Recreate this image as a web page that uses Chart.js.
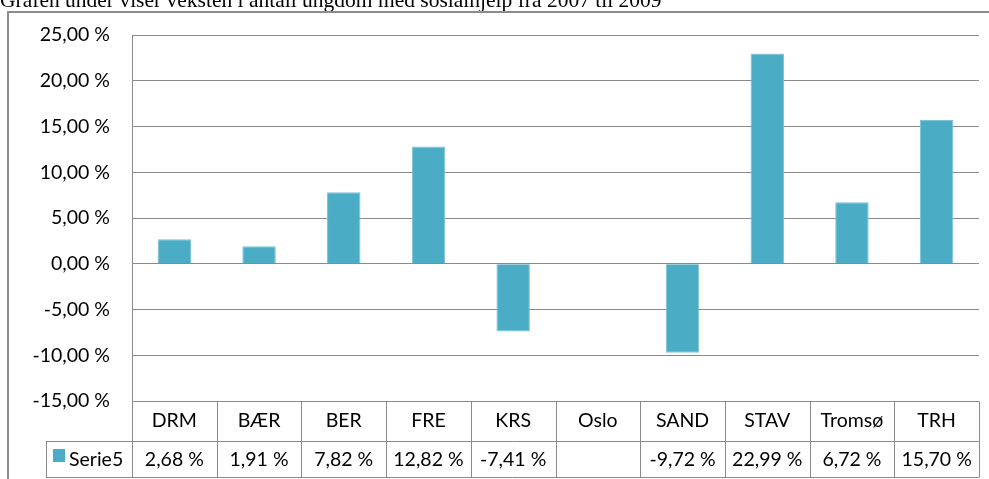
<!DOCTYPE html>
<html>
<head>
<meta charset="utf-8">
<script src="https://cdn.jsdelivr.net/npm/chart.js@4"></script>
<style>
  html, body { margin: 0; padding: 0; background: #fff; }
  #wrap { position: relative; width: 989px; height: 479px; }
</style>
</head>
<body>
<div id="wrap"><canvas id="vekstChart" width="989" height="479"></canvas></div>
<script>
// Data lest av grafen
const titleText = 'Grafen under viser veksten i antall ungdom med sosialhjelp fra 2007 til 2009';
const categories = ['DRM', 'BÆR', 'BER', 'FRE', 'KRS', 'Oslo', 'SAND', 'STAV', 'Tromsø', 'TRH'];
const serieName = 'Serie5';
const serieValues = [2.68, 1.91, 7.82, 12.82, -7.41, null, -9.72, 22.99, 6.72, 15.70];
const yMin = -15;
const yMax = 25;
const yStep = 5;

const FONT = 'Lato, "Open Sans", sans-serif';
const FONT_SIZE = 19.5;
const BAR_COLOR = '#4BACC6';
const LINE_COLOR = '#8a8a8a';

// Norsk prosentformat: 12,82 %
function pct(v) {
    return v.toFixed(2).replace('.', ',') + '\u00a0%';
}

// Plugin som tegner tittel, ramme og datatabellen under grafen
const tablePlugin = {
    id: 'dataTable',
    afterDraw(chart) {
        const ctx = chart.ctx;
        const area = chart.chartArea;
        const xs = chart.scales.x;
        const colW = (area.right - area.left) / categories.length;
        const row1Top = area.bottom;
        const row2Top = row1Top + 40;
        const row2Bot = row2Top + 36;
        const legendLeft = 46;

        ctx.save();

        // Tittel (kuttet i toppen)
        ctx.fillStyle = '#000';
        ctx.font = '21.5px "Liberation Serif", "Times New Roman", serif';
        ctx.textAlign = 'left';
        ctx.textBaseline = 'alphabetic';
        ctx.fillText(titleText, 0, 7);

        // Ytre ramme
        ctx.strokeStyle = '#8c8c8c';
        ctx.lineWidth = 2;
        ctx.beginPath();
        ctx.moveTo(8, 480);
        ctx.lineTo(8, 12);
        ctx.lineTo(990, 12);
        ctx.stroke();

        // Tabellinjer
        ctx.strokeStyle = LINE_COLOR;
        ctx.lineWidth = 1;
        const px = v => Math.round(v) + 0.5;
        ctx.beginPath();
        // venstre aksen fortsetter ned
        ctx.moveTo(px(area.left), area.bottom);
        ctx.lineTo(px(area.left), px(row2Bot));
        // horisontale linjer
        ctx.moveTo(legendLeft, px(row2Top));
        ctx.lineTo(area.right, px(row2Top));
        ctx.moveTo(legendLeft, px(row2Bot));
        ctx.lineTo(area.right, px(row2Bot));
        // legendecelle
        ctx.moveTo(px(legendLeft), px(row2Top));
        ctx.lineTo(px(legendLeft), px(row2Bot));
        // kolonneskiller
        categories.forEach((c, i) => {
            const xr = xs.getPixelForValue(i) + colW / 2;
            ctx.moveTo(px(xr), px(row1Top));
            ctx.lineTo(px(xr), px(row2Bot));
        });
        ctx.stroke();

        // Tekst i tabellen
        ctx.fillStyle = '#000';
        ctx.font = FONT_SIZE + 'px ' + FONT;
        ctx.textAlign = 'center';
        ctx.textBaseline = 'middle';
        categories.forEach((c, i) => {
            const xc = xs.getPixelForValue(i);
            ctx.fillText(c, xc, (row1Top + row2Top) / 2);
            const v = serieValues[i];
            if (v !== null) ctx.fillText(pct(v), xc, (row2Top + row2Bot) / 2 + 1);
        });

        // Legende
        ctx.fillStyle = BAR_COLOR;
        ctx.fillRect(53, 449, 12, 13);
        ctx.fillStyle = '#000';
        ctx.textAlign = 'left';
        ctx.fillText(serieName, 69, (row2Top + row2Bot) / 2 + 1);

        ctx.restore();
    }
};

const ctx = document.getElementById('vekstChart').getContext('2d');
const vekstChart = new Chart(ctx, {
    type: 'bar',
    data: {
        labels: categories,
        datasets: [{
            label: serieName,
            data: serieValues,
            backgroundColor: BAR_COLOR,
            borderColor: '#7cc3d6',
            borderWidth: 1,
            categoryPercentage: 1,
            barPercentage: 0.395
        }]
    },
    options: {
        responsive: false,
        animation: false,
        layout: {
            padding: { top: 35, right: 10, bottom: 78, left: 0 }
        },
        plugins: {
            legend: { display: false },
            tooltip: { enabled: false }
        },
        scales: {
            x: {
                display: true,
                grid: { display: false, drawTicks: false },
                border: { display: false },
                ticks: { display: false },
                afterFit(scale) { scale.height = 0; }
            },
            y: {
                min: yMin,
                max: yMax,
                afterFit(scale) { scale.width = 132; },
                ticks: {
                    stepSize: yStep,
                    padding: 22,
                    color: '#000',
                    font: { family: FONT, size: FONT_SIZE },
                    callback: function(value) {
                        return pct(value);
                    }
                },
                grid: { color: LINE_COLOR, drawTicks: false, lineWidth: 1 },
                border: { display: true, color: LINE_COLOR, width: 1 }
            }
        }
    },
    plugins: [tablePlugin]
});
</script>
</body>
</html>
